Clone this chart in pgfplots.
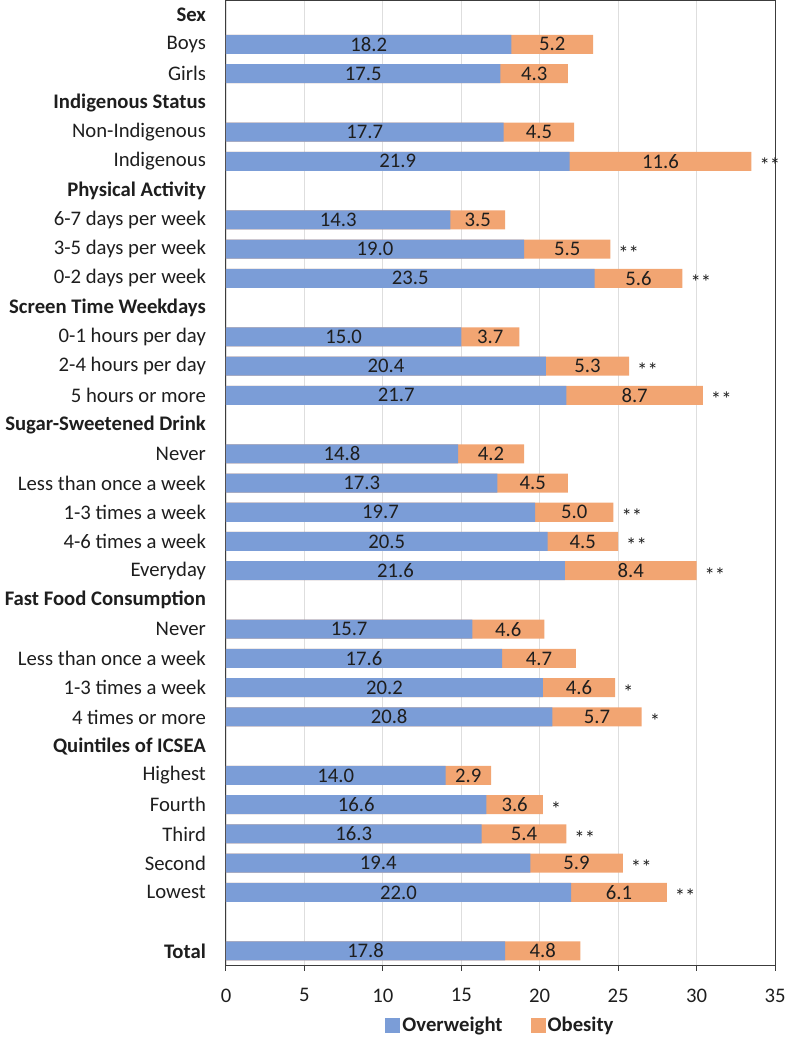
\documentclass[border=0pt]{standalone}
\usepackage{fontspec}
\setmainfont{Carlito}
\usepackage{pgfplots}
\usepackage{pgfplotstable}
\pgfplotsset{compat=1.18}
\definecolor{owblue}{RGB}{123,157,215}
\definecolor{obora}{RGB}{242,165,114}
\definecolor{txt}{RGB}{30,30,30}
\definecolor{axisc}{RGB}{60,60,60}
\definecolor{gridc}{RGB}{222,222,222}
\pgfplotstableread{
row ow ob star
1 18.2 5.2 {}
2 17.5 4.3 {}
4 17.7 4.5 {}
5 21.9 11.6 **
7 14.3 3.5 {}
8 19.0 5.5 **
9 23.5 5.6 **
11 15.0 3.7 {}
12 20.4 5.3 **
13 21.7 8.7 **
15 14.8 4.2 {}
16 17.3 4.5 {}
17 19.7 5.0 **
18 20.5 4.5 **
19 21.6 8.4 **
21 15.7 4.6 {}
22 17.6 4.7 {}
23 20.2 4.6 *
24 20.8 5.7 *
26 14.0 2.9 {}
27 16.6 3.6 *
28 16.3 5.4 **
29 19.4 5.9 **
30 22.0 6.1 **
32 17.8 4.8 {}
}\data
\begin{document}
\fontsize{20.7}{25}\selectfont
\begin{tikzpicture}
\begin{axis}[
  scale only axis,
  width=549pt, height=965pt,
  xmin=0, xmax=35,
  ymin=-0.5, ymax=32.5,
  y dir=reverse,
  xtick={0,5,...,35},
  xmajorgrids, grid style={gridc, line width=0.8pt},
  axis line style={axisc, line width=1pt},
  x tick style={axisc, line width=1pt},
  tick align=outside,
  major tick length=5pt,
  ytick style={draw=none},
  /pgf/number format/assume math mode=true,
  tick label style={text=txt},
  xticklabel style={yshift=-11pt},
  yticklabel style={xshift=-8pt},
  ytick={0,...,30,32},
  yticklabels={\textbf{Sex},Boys,Girls,\textbf{Indigenous Status},Non-Indigenous,Indigenous,
    \textbf{Physical Activity},6-7 days per week,3-5 days per week,0-2 days per week,
    \textbf{Screen Time Weekdays},0-1 hours per day,2-4 hours per day,5 hours or more,
    \textbf{Sugar-Sweetened Drink},Never,Less than once a week,1-3 times a week,4-6 times a week,Everyday,
    \textbf{Fast Food Consumption},Never,Less than once a week,1-3 times a week,4 times or more,
    \textbf{Quintiles of ICSEA},Highest,Fourth,Third,Second,Lowest,\textbf{Total}},
  legend style={draw=none, at={(0.5,-0.0625)}, anchor=center, legend columns=2,
    font=\bfseries\color{txt}, column sep=0pt, inner sep=0pt,
    /tikz/every even column/.append style={column sep=26pt}},
  legend cell align=left,
  legend image code/.code={\fill[#1] (0pt,-7.5pt) rectangle (15pt,7.5pt);},
]
\addplot[xbar, bar width=0.65, bar shift=0pt, fill=obora, draw=none, forget plot]
  table[x expr=\thisrow{ow}+\thisrow{ob}, y=row] {\data};
\addplot[xbar, bar width=0.65, bar shift=0pt, fill=owblue, draw=none, forget plot]
  table[x=ow, y=row] {\data};
\addplot[draw=none, mark=none, forget plot, nodes near coords, point meta=explicit,
  nodes near coords style={anchor=center, text=txt, /pgf/number format/.cd, fixed, fixed zerofill, precision=1, assume math mode=true}]
  table[x expr=\thisrow{ow}/2, y=row, meta=ow] {\data};
\addplot[draw=none, mark=none, forget plot, nodes near coords, point meta=explicit,
  nodes near coords style={anchor=center, text=txt, /pgf/number format/.cd, fixed, fixed zerofill, precision=1, assume math mode=true}]
  table[x expr=\thisrow{ow}+\thisrow{ob}/2, y=row, meta=ob] {\data};
\addplot[draw=none, mark=none, forget plot, nodes near coords={\pgfplotspointmeta}, point meta=explicit symbolic,
  nodes near coords style={anchor=west, xshift=1pt, yshift=-4pt, text=txt}]
  table[x expr=\thisrow{ow}+\thisrow{ob}, y=row, meta=star] {\data};
\addlegendimage{fill=owblue, draw=none}
\addlegendentry{Overweight}
\addlegendimage{fill=obora, draw=none}
\addlegendentry{Obesity}
\end{axis}
\pgfresetboundingbox
\path ([shift={(-226pt,-72.5pt)}]current axis.south west) rectangle ([shift={(12pt,0.5pt)}]current axis.north east);
\end{tikzpicture}
\end{document}
